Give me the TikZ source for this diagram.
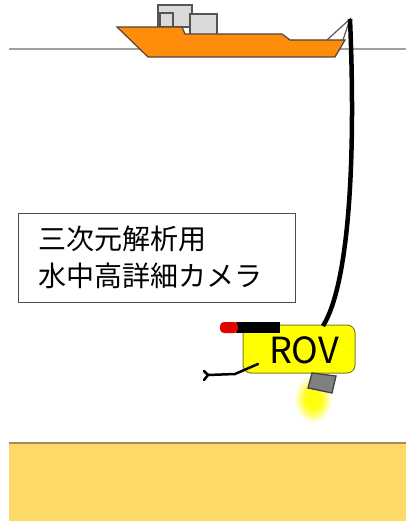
\documentclass[tikz,border=0pt]{standalone}
\usepackage{fontspec}
\newfontfamily\jp{Noto Sans CJK JP}
\usetikzlibrary{calc}
\definecolor{hull}{RGB}{255,140,10}
\definecolor{hulledge}{RGB}{80,70,60}
\definecolor{cabin}{RGB}{218,218,218}
\definecolor{cabinedge}{RGB}{85,85,85}
\definecolor{sealine}{RGB}{160,160,160}
\definecolor{sand}{RGB}{255,217,102}
\definecolor{sandedge}{RGB}{160,140,95}
\definecolor{rovbody}{RGB}{255,255,0}
\definecolor{rovedge}{RGB}{130,130,20}
\definecolor{camgray}{RGB}{128,128,128}
\pgfdeclareradialshading{lampglow}{\pgfpoint{0bp}{0bp}}{%
  color(0bp)=(rovbody); color(11bp)=(rovbody!90!white);
  color(25bp)=(white); color(50bp)=(white)}
\tikzset{
  shipline/.style={draw=hulledge, line width=1.2},
  cabinbox/.style={fill=cabin, draw=cabinedge, line width=1.2},
  rovbox/.style={draw=rovedge, fill=rovbody, line width=1, rounded corners=8,
    minimum width=112, minimum height=48, inner sep=0},
  notebox/.style={draw=black!70, line width=1, minimum width=277, minimum height=89,
    text width=237, align=left, inner xsep=20, font=\jp\fontsize{28}{37}\selectfont},
  cable/.style={line width=4.5, black, line cap=butt},
  armline/.style={line width=2.5, black, line cap=round, line join=round}
}
\begin{document}
\begin{tikzpicture}[x=1pt,y=-1pt]
  \useasboundingbox (0,0) rectangle (406,521);
  \fill[white] (0,0) rectangle (406,521);

  % sea surface and sea floor
  \draw[sealine, line width=2] (9,49) -- (406,49);
  \fill[sand] (9,443) rectangle (406,521);
  \draw[sandedge, line width=2] (9,443) -- (406,443);

  % ship superstructure
  \draw[cabinbox] (158,5) rectangle (192,27);
  \draw[cabinbox] (160,13) rectangle (173,27);
  \draw[cabinbox] (190,14) rectangle (217,35);
  % hull
  \filldraw[shipline, fill=hull] (117,27) -- (182,27) -- (185,34) -- (282,34)
    -- (290,40) -- (345,40) -- (335,57) -- (148,57) -- cycle;
  % A-frame crane
  \coordinate (crane) at (350,19);
  \draw[cabinedge, line width=1.2] (327,40) -- (crane) -- (343,40);

  % light beam under the camera
  \shade[shading=lampglow] (313,399) ellipse [x radius=19, y radius=24];

  % ROV
  \node[rovbox] (rov) at (299,349) {};
  \node[font=\jp\fontsize{36}{40}\selectfont, inner sep=0] (rovlabel) at (304,350) {ROV};
  \coordinate (tether) at (323,326);
  \draw[cable] (crane) .. controls (356,160) and (349,284) .. (tether);
  % camera housing
  \filldraw[fill=camgray, draw=black!75, line width=1.3] (312,373) -- (336,376) -- (332,393) -- (308,388) -- cycle;
  % sensor bar
  \fill[black] (236,322) rectangle (280,333);
  \fill[red!90!black, rounded corners=4] (220,322) rectangle (238,333);
  % manipulator arm
  \coordinate (armbase) at (258,364);
  \draw[armline] (armbase) -- (235,374) -- (208,375);
  \draw[armline] (204,371) -- (208,375) -- (204,380);

  % caption box
  \node[notebox] (note) at (156.5,257.5) {三次元解析用\\水中高詳細カメラ};
\end{tikzpicture}
\end{document}
